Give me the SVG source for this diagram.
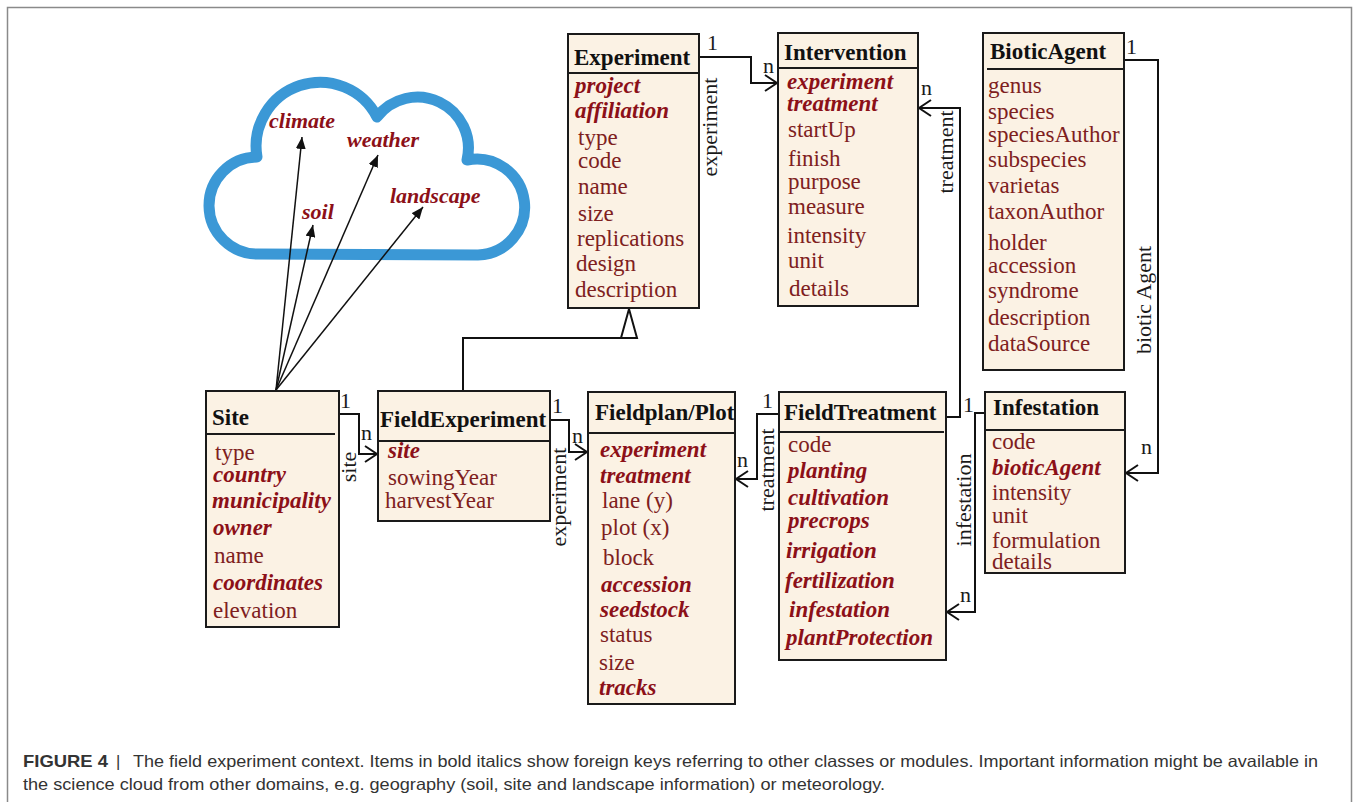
<svg xmlns="http://www.w3.org/2000/svg" width="1356" height="802" viewBox="0 0 1356 802">
<style>
.box{fill:#fbf2e4;stroke:#1a1a1a;stroke-width:2}
.div{stroke:#1a1a1a;stroke-width:1.8}
.title{font-family:"Liberation Serif",serif;font-weight:bold;font-size:23px;fill:#111}
.attr{font-family:"Liberation Serif",serif;font-size:23px;fill:#7e2020}
.fk{font-family:"Liberation Serif",serif;font-size:23px;font-weight:bold;font-style:italic;fill:#8c1018}
.cloudtxt{font-family:"Liberation Serif",serif;font-size:22px;font-weight:bold;font-style:italic;fill:#8c1018}
.lbl{font-family:"Liberation Serif",serif;font-size:22px;fill:#1a1a1a}
.conn{fill:none;stroke:#111;stroke-width:2}
.thin{fill:none;stroke:#111;stroke-width:1.5}
.cap{font-family:"Liberation Sans",Arial,sans-serif;font-size:16.5px;fill:#333}
</style>
<defs>
<marker id="open" viewBox="0 0 14 18" refX="13" refY="9" markerWidth="14" markerHeight="18" markerUnits="userSpaceOnUse" orient="auto">
<path d="M1,1 L13,9 L1,17" fill="none" stroke="#111" stroke-width="2"/>
</marker>
<marker id="solid" viewBox="0 0 12 10" refX="12" refY="5" markerWidth="12" markerHeight="10" markerUnits="userSpaceOnUse" orient="auto">
<path d="M0,0 L12,5 L0,10 z" fill="#111"/>
</marker>
</defs>
<rect x="0" y="0" width="1356" height="802" fill="#fff"/>
<rect x="7.5" y="7.5" width="1344" height="830" fill="none" stroke="#8a8a8a" stroke-width="1.5"/>

<g id="cloud">
<path d="M258,254 A48,48 0 0 1 257,157 A64,64 0 0 1 377,117 A51,51 0 0 1 467,160 A48,48 0 1 1 478,255 Z" fill="#fff" stroke="#3b98d6" stroke-width="11" stroke-linejoin="round"/>
<text class="cloudtxt" x="269" y="128">climate</text>
<text class="cloudtxt" x="347" y="147">weather</text>
<text class="cloudtxt" x="302" y="219">soil</text>
<text class="cloudtxt" x="390" y="203">landscape</text>
</g>

<g id="connectors">
<path class="thin" d="M276,390 L302,137" marker-end="url(#solid)"/>
<path class="thin" d="M276,390 L313,225" marker-end="url(#solid)"/>
<path class="thin" d="M276,390 L378,155" marker-end="url(#solid)"/>
<path class="thin" d="M276,390 L423,207" marker-end="url(#solid)"/>

<path class="conn" d="M699,57 H751 V83 H777" marker-end="url(#open)"/>
<text class="lbl" x="707" y="50">1</text>
<text class="lbl" x="763" y="73">n</text>
<text class="lbl" transform="rotate(-90 717 127)" x="717" y="127" text-anchor="middle">experiment</text>

<path class="conn" d="M946,417 H960 V108 H919" marker-end="url(#open)"/>
<text class="lbl" x="921" y="95">n</text>
<text class="lbl" transform="rotate(-90 953 152)" x="953" y="152" text-anchor="middle">treatment</text>
<text class="lbl" x="963" y="412">1</text>

<path class="conn" d="M1124,60 H1158 V473 H1126" marker-end="url(#open)"/>
<text class="lbl" x="1126" y="54">1</text>
<text class="lbl" x="1141" y="454">n</text>
<text class="lbl" transform="rotate(-90 1151 300)" x="1151" y="300" text-anchor="middle">biotic Agent</text>

<path class="conn" d="M985,413 H975 V612 H947" marker-end="url(#open)"/>
<text class="lbl" x="960" y="602">n</text>
<text class="lbl" transform="rotate(-90 971 500)" x="971" y="500" text-anchor="middle">infestation</text>

<path class="conn" d="M339,414 H359 V454 H377" marker-end="url(#open)"/>
<text class="lbl" x="340" y="408">1</text>
<text class="lbl" x="361" y="440">n</text>
<text class="lbl" transform="rotate(-90 356 467)" x="356" y="467" text-anchor="middle">site</text>

<path class="conn" d="M550,420 H569 V452 H587" marker-end="url(#open)"/>
<text class="lbl" x="552" y="413">1</text>
<text class="lbl" x="572" y="443">n</text>
<text class="lbl" transform="rotate(-90 566 497)" x="566" y="497" text-anchor="middle">experiment</text>

<path class="conn" d="M779,414 H757 V479 H736" marker-end="url(#open)"/>
<text class="lbl" x="762" y="408">1</text>
<text class="lbl" x="737" y="467">n</text>
<text class="lbl" transform="rotate(-90 774 470)" x="774" y="470" text-anchor="middle">treatment</text>

<path class="conn" d="M463,391 V338 H629"/>
<polygon points="629,309 621,338 637,338" fill="#fff" stroke="#111" stroke-width="2" stroke-linejoin="miter"/>
</g>

<g id="Experiment">
<rect class="box" x="568" y="34" width="131" height="274"/>
<line class="div" x1="568" y1="73" x2="699" y2="73"/>
<text class="title" x="574" y="65">Experiment</text>
<text class="fk" x="575" y="93">project</text>
<text class="fk" x="575" y="118">affiliation</text>
<text class="attr" x="578" y="145">type</text>
<text class="attr" x="578" y="168">code</text>
<text class="attr" x="578" y="194">name</text>
<text class="attr" x="578" y="221">size</text>
<text class="attr" x="577" y="246">replications</text>
<text class="attr" x="576" y="271">design</text>
<text class="attr" x="575" y="297">description</text>
</g>

<g id="Intervention">
<rect class="box" x="778" y="33" width="140" height="273"/>
<line class="div" x1="778" y1="68" x2="918" y2="68"/>
<text class="title" x="784" y="60">Intervention</text>
<text class="fk" x="787" y="89">experiment</text>
<text class="fk" x="787" y="111">treatment</text>
<text class="attr" x="788" y="137">startUp</text>
<text class="attr" x="788" y="166">finish</text>
<text class="attr" x="788" y="189">purpose</text>
<text class="attr" x="788" y="214">measure</text>
<text class="attr" x="787" y="243">intensity</text>
<text class="attr" x="788" y="268">unit</text>
<text class="attr" x="789" y="296">details</text>
</g>

<g id="BioticAgent">
<rect class="box" x="983" y="33" width="141" height="337"/>
<line class="div" x1="987" y1="69" x2="1123" y2="69"/>
<text class="title" x="990" y="59">BioticAgent</text>
<text class="attr" x="988" y="93">genus</text>
<text class="attr" x="988" y="119">species</text>
<text class="attr" x="988" y="142">speciesAuthor</text>
<text class="attr" x="988" y="167">subspecies</text>
<text class="attr" x="988" y="193">varietas</text>
<text class="attr" x="988" y="219">taxonAuthor</text>
<text class="attr" x="988" y="250">holder</text>
<text class="attr" x="988" y="273">accession</text>
<text class="attr" x="988" y="298">syndrome</text>
<text class="attr" x="988" y="325">description</text>
<text class="attr" x="988" y="351">dataSource</text>
</g>

<g id="Site">
<rect class="box" x="206" y="391" width="133" height="236"/>
<line class="div" x1="206" y1="434" x2="335" y2="434"/>
<text class="title" x="212" y="425">Site</text>
<text class="attr" x="215" y="460">type</text>
<text class="fk" x="213" y="482">country</text>
<text class="fk" x="212" y="508">municipality</text>
<text class="fk" x="213" y="535">owner</text>
<text class="attr" x="214" y="563">name</text>
<text class="fk" x="213" y="590">coordinates</text>
<text class="attr" x="213" y="618">elevation</text>
</g>

<g id="FieldExperiment">
<rect class="box" x="378" y="391" width="172" height="130"/>
<line class="div" x1="378" y1="441" x2="550" y2="441"/>
<text class="title" x="380" y="427">FieldExperiment</text>
<text class="fk" x="388" y="458">site</text>
<text class="attr" x="388" y="485">sowingYear</text>
<text class="attr" x="385" y="508">harvestYear</text>
</g>

<g id="FieldplanPlot">
<rect class="box" x="588" y="392" width="147" height="312"/>
<line class="div" x1="588" y1="433" x2="735" y2="433"/>
<text class="title" x="595" y="420">Fieldplan/Plot</text>
<text class="fk" x="600" y="457">experiment</text>
<text class="fk" x="600" y="483">treatment</text>
<text class="attr" x="602" y="508">lane (y)</text>
<text class="attr" x="601" y="535">plot (x)</text>
<text class="attr" x="603" y="565">block</text>
<text class="fk" x="601" y="592">accession</text>
<text class="fk" x="600" y="617">seedstock</text>
<text class="attr" x="600" y="642">status</text>
<text class="attr" x="599" y="670">size</text>
<text class="fk" x="599" y="695">tracks</text>
</g>

<g id="FieldTreatment">
<rect class="box" x="779" y="392" width="167" height="268"/>
<line class="div" x1="779" y1="432" x2="944" y2="432"/>
<text class="title" x="784" y="420">FieldTreatment</text>
<text class="attr" x="788" y="452">code</text>
<text class="fk" x="788" y="478">planting</text>
<text class="fk" x="788" y="505">cultivation</text>
<text class="fk" x="788" y="528">precrops</text>
<text class="fk" x="786" y="558">irrigation</text>
<text class="fk" x="785" y="588">fertilization</text>
<text class="fk" x="789" y="617">infestation</text>
<text class="fk" x="786" y="645">plantProtection</text>
</g>

<g id="Infestation">
<rect class="box" x="985" y="392" width="140" height="181"/>
<line class="div" x1="985" y1="430" x2="1125" y2="430"/>
<text class="title" x="993" y="415">Infestation</text>
<text class="attr" x="992" y="449">code</text>
<text class="fk" x="992" y="475">bioticAgent</text>
<text class="attr" x="992" y="500">intensity</text>
<text class="attr" x="992" y="523">unit</text>
<text class="attr" x="992" y="548">formulation</text>
<text class="attr" x="992" y="569">details</text>
</g>

<g id="caption">
<text class="cap" x="23" y="767" font-weight="bold" fill="#222" textLength="85" lengthAdjust="spacingAndGlyphs">FIGURE 4</text>
<text class="cap" x="116" y="767">|</text>
<text class="cap" x="133" y="767" textLength="1185" lengthAdjust="spacingAndGlyphs">The field experiment context. Items in bold italics show foreign keys referring to other classes or modules. Important information might be available in</text>
<text class="cap" x="23" y="790" textLength="862" lengthAdjust="spacingAndGlyphs">the science cloud from other domains, e.g. geography (soil, site and landscape information) or meteorology.</text>
</g>
</svg>
